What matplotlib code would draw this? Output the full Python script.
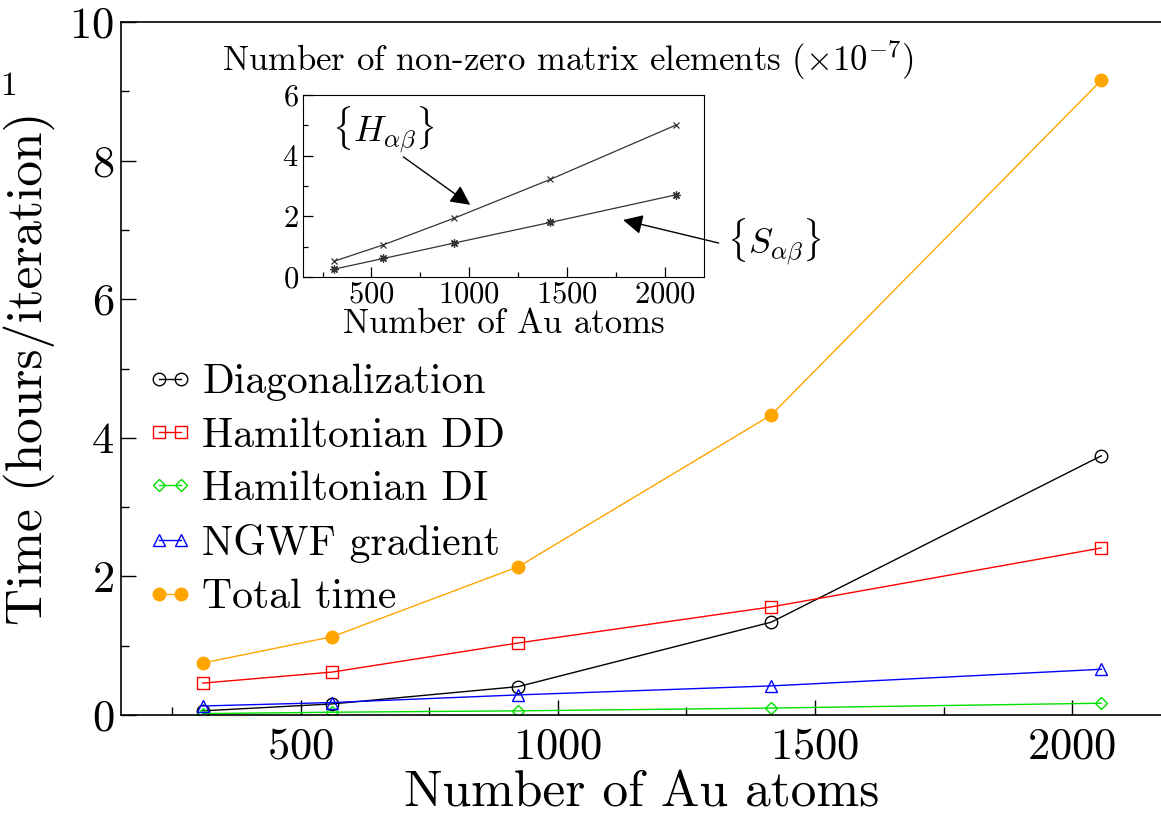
import numpy as np
import matplotlib
matplotlib.use("Agg")
import matplotlib.pyplot as plt
from matplotlib.ticker import MultipleLocator, FixedLocator

plt.rcParams['font.family'] = 'serif'
plt.rcParams['font.serif'] = ['cmr10']
plt.rcParams['mathtext.fontset'] = 'cm'
plt.rcParams['axes.formatter.use_mathtext'] = True

# cluster sizes (number of Au atoms)
n_atoms = [309, 561, 923, 1415, 2057]

# timings, hours per iteration
diag = [0.06, 0.16, 0.41, 1.34, 3.74]
ham_dd = [0.46, 0.62, 1.04, 1.56, 2.41]
ham_di = [0.02, 0.04, 0.06, 0.10, 0.17]
ngwf_grad = [0.13, 0.18, 0.29, 0.42, 0.66]
total = [0.75, 1.13, 2.14, 4.33, 9.16]

# inset: non-zero matrix elements (x 1e-7)
nnz_h = [0.52, 1.06, 1.94, 3.22, 5.01]
nnz_s = [0.26, 0.61, 1.12, 1.80, 2.71]

series = [
    ("Diagonalization", diag, "black", "o", "none"),
    ("Hamiltonian DD", ham_dd, "#ff0000", "s", "none"),
    ("Hamiltonian DI", ham_di, "#00e000", "D", "none"),
    ("NGWF gradient", ngwf_grad, "#0000ff", "^", "none"),
    ("Total time", total, "#ffa500", "o", "#ffa500"),
]
msizes = {"o": 9, "s": 8, "D": 6.5, "^": 9}

fig = plt.figure(figsize=(11.61, 8.15), dpi=100)
ax = fig.add_axes([121/1161, 100/815, 1041/1161, 693/815])

for label, vals, col, mk, fc in series:
    ax.plot(n_atoms, vals, color=col, lw=1.0, marker=mk, ms=msizes[mk],
            mfc=fc, mec=col, mew=1.0, label=label)

ax.set_xlim(150, 2175)
ax.set_ylim(0, 10)
ax.xaxis.set_major_locator(FixedLocator([500, 1000, 1500, 2000]))
ax.xaxis.set_minor_locator(FixedLocator([250, 750, 1250, 1750]))
ax.yaxis.set_major_locator(MultipleLocator(2))
ax.yaxis.set_minor_locator(MultipleLocator(1))
ax.tick_params(which='both', direction='in', labelsize=32)
ax.tick_params(which='major', length=11, width=1.0)
ax.tick_params(which='minor', length=5.5, width=1.0)
ax.tick_params(axis='x', pad=9)
ax.tick_params(axis='y', pad=5)
ax.spines['right'].set_visible(False)
for sp in ['left', 'bottom', 'top']:
    ax.spines[sp].set_linewidth(1.2)

ax.set_xlabel("Number of Au atoms", fontsize=37, labelpad=2)
ax.set_ylabel("Time (hours/iteration)", fontsize=37, labelpad=10)

leg = ax.legend(loc='upper left', bbox_to_anchor=(146/1161, 1 - 364/815),
                bbox_transform=fig.transFigure, frameon=False, fontsize=30,
                numpoints=2, handlelength=1.15, handletextpad=0.2,
                labelspacing=0.38, borderpad=0, borderaxespad=0)

# inset
ins = fig.add_axes([303/1161, 1 - 277/815, 401/1161, 182/815])
ins.plot(n_atoms, nnz_h, color='#333333', lw=0.9, marker='x', ms=5, mew=0.9)
ins.plot(n_atoms, nnz_s, color='#333333', lw=0.9, marker=(8, 2, 0), ms=6, mew=0.9)
ins.set_xlim(150, 2200)
ins.set_ylim(0, 6)
ins.xaxis.set_major_locator(FixedLocator([500, 1000, 1500, 2000]))
ins.xaxis.set_minor_locator(FixedLocator([250, 750, 1250, 1750]))
ins.yaxis.set_major_locator(MultipleLocator(2))
ins.yaxis.set_minor_locator(MultipleLocator(1))
ins.tick_params(which='both', direction='in', labelsize=22, pad=3)
ins.tick_params(which='major', length=7, width=0.9)
ins.tick_params(which='minor', length=3.5, width=0.9)
ins.set_xlabel("Number of Au atoms", fontsize=25, labelpad=0)

fig.text(568/1161, 1 - 60/815, r"Number of non-zero matrix elements ($\times10^{-7}$)",
         fontsize=25, ha='center', va='center')

ins.text(560, 4.85, r"$\{H_{\alpha\beta}\}$", fontsize=26, ha='center', va='center')
ins.text(2560, 1.15, r"$\{S_{\alpha\beta}\}$", fontsize=26, ha='center', va='center',
         clip_on=False)
arrow = dict(arrowstyle='-|>', color='black', lw=1.0, mutation_scale=30,
             shrinkA=0, shrinkB=0)
ins.annotate("", xy=(1005, 2.38), xytext=(663, 3.96), arrowprops=arrow,
             annotation_clip=False)
ins.annotate("", xy=(1786, 1.88), xytext=(2275, 1.12), arrowprops=arrow,
             annotation_clip=False)

fig.text(0.0, 1 - 86/815, "1", fontsize=24, ha='left', va='center')

fig.savefig("out.png", dpi=100)
